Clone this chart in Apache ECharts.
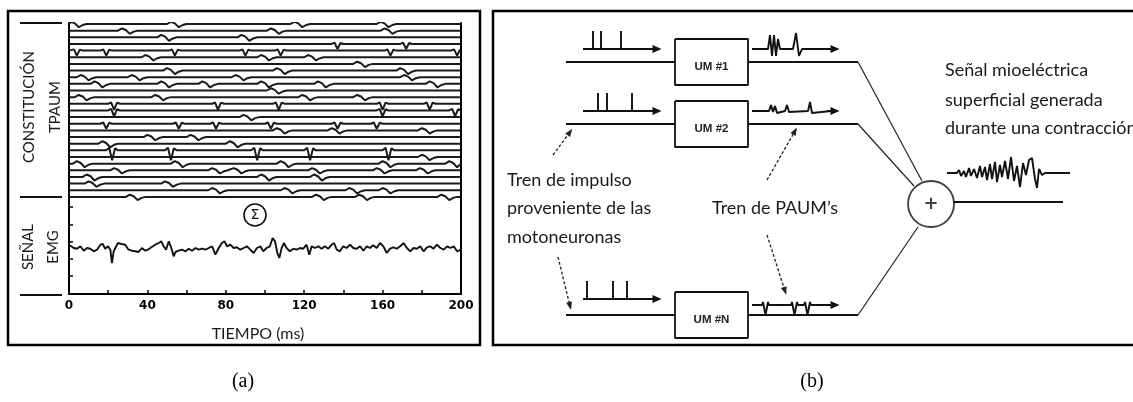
<!DOCTYPE html>
<html><head><meta charset="utf-8">
<script src="https://cdn.jsdelivr.net/npm/echarts@6/dist/echarts.min.js"></script>
<style>html,body{margin:0;padding:0;background:#fff}#c{width:1133px;height:402px}</style>
</head><body><div id="c"></div>
<script>
// ================= Panel (a) data =================
const xTickValues = [0, 40, 80, 120, 160, 200];
const emgTickValues = [18, 35.5, 52, 69, 87];
// firing times (ms) of each motor-unit action potential train (27 trains, top to bottom)
const traceFirings = [
  [4, 55, 118, 162],
  [30, 106, 164],
  [50, 91],
  [137, 172],
  [4, 19, 54, 90, 108, 164, 198],
  [42, 101, 125],
  [150],
  [53, 109, 172],
  [9, 35, 88, 174],
  [16, 50, 71, 101, 130, 187],
  [106],
  [8, 47, 122, 150],
  [23, 76, 107, 160, 184],
  [23, 160, 197],
  [92],
  [19, 56, 75, 103, 137, 157],
  [109, 137, 183],
  [43, 65],
  [20, 85],
  [22, 52, 96, 123, 163],
  [183],
  [7, 57, 111, 163, 197],
  [26, 76, 87, 127, 160, 182],
  [12, 101, 128],
  [13, 52],
  [76, 113, 146, 163],
  [34, 129, 151, 193]
];
const traceAmp = [4,4,4.5,5,5,4,4,4.5,4,4.5,4,4,6,6,4,5,4,4,4.5,10,4,4.5,4,4.5,4,4,4];
const traceShape = ['W','W','W','V','V','W','W','W','W','W','W','W','V','V','W','V','W','W','W','V','W','W','W','W','W','W','W'];
const muapV = [[-3,0],[-1.5,0.25],[0,-1],[1.5,0.2],[3,0]];
const muapW = [[-5,0],[-3,0.55],[-1,0.15],[1,-0.8],[3,-0.25],[5,0]];
// surface EMG signal (time ms, amplitude)
const emgT = [0,0.7,2.4,4.1,5.8,7.5,9.2,10.9,12.6,14.3,16,17.2,18.5,19.9,21.1,21.9,22.8,23.6,25,26.7,28.7,30.4,32.1,33.8,35.5,37.2,38.9,40.3,42,44,45.8,47.1,48.3,49.5,50.9,52.2,53.4,54.3,55.9,57.7,59.4,61.1,62.8,64.5,66.2,67.9,69.6,71.3,73,73.8,74.7,75.5,76.4,78,79.4,80.6,82.3,84,85.7,87.4,89.1,90.8,92.5,94.2,95.9,97.6,99.1,100.8,102.5,103.9,105.1,106.3,107.3,108.5,109.7,111,112.7,114.5,116.1,117.9,119.5,121.2,122.6,123.8,125.5,127.2,128.9,130.6,132.3,134,135.2,136.6,138.2,139.9,141.6,143.4,145,146.8,148.5,150.2,151.9,153.6,155.2,157,158.7,160.4,162.1,163.8,165.5,167.2,169,170.7,172.4,174.1,175.8,177.5,179.2,180.9,182.6,184.3,186,187.7,189.5,191.2,192.9,194.6,196.3,198,200];
const emgV = [49.3,51,46,45.3,47.7,43.3,46,45.3,42.7,44.3,49.3,50,45.3,47.7,44.3,31,42.7,46,51,50,49.3,44.3,43.3,42.7,42,46,43.3,44.3,46.7,49.3,51,52.7,47.7,44.3,52.7,46,37.7,42,43.3,44.3,42.7,45.3,43.3,46,44.3,45.3,44.3,46,47.7,49.3,39.3,37.7,46,51,52.7,47.7,49.3,46,46.7,44.3,46,47.7,44.3,41,46,47.7,42.7,46,47.7,56,52.7,41,36,46,51,46,42.7,45.3,44.3,46,45.3,49.3,39.3,47.7,46,47.7,45.3,47.7,45.3,49.3,51,44.3,42.7,47.7,46,49.3,46,45.3,47.7,43.3,47.7,46,48.7,46,51,47.7,41,45.3,46.7,45.3,47.7,51,46,42.7,46,45.3,47.7,42.7,46.7,47.7,45.3,49.3,46,44.3,47.7,46,47.7,42.7,44.3];

// ================= Panel (b) data =================
const umLabels = ['UM #1', 'UM #2', 'UM #N'];
const impulseTimes = [[10, 18, 38], [15, 24, 49], [4, 30, 44]];
const muapTrains = [
  [[0,0],[16,0],[18,-14],[20,7],[22,-14],[24,7],[26,-10],[28,0],[41,0],[44,-16],[47,7],[50,0]],
  [[0,0],[17,0],[19,-6],[21,1],[23,-5],[25,2],[27,0],[33,0],[35,-6],[37,1],[39,0],[56,0],[58,-9],[60,2],[62,0]],
  [[0,0],[10,0],[11,-3],[13.5,10],[16,-3],[17,0],[39,0],[40,-3],[42.5,10],[45,-3],[46,0],[52,0],[53,-3],[55.5,10],[58,-3],[59,0]]
];
const mixedSignal = [[0,0],[10,0],[12,-3],[14,3],[17,-2],[19,4],[22,-5],[24,3],[27,-4],[30,5],[33,-7],[35,4],[38,-6],[40,7],[43,-9],[45,6],[48,-11],[50,9],[53,-8],[55,4],[58,-12],[61,6],[64,-16],[67,8],[70,-7],[73,14],[76,-10],[79,2],[82,-13],[85,-15],[88,6],[90,15],[92,-4],[95,2],[98,0],[123,0]];

// ================= layout =================
const traceTop = 270, traceGap = 6.65;
const B = {
  rowY: [62, 124, 315], inX0: 566, boxX0: 675, boxX1: 748, outX1: 858, boxHalfH: 23,
  trainX0: 583, trainX1: 657, trainDy: [-13, -13, -16], spikeH: 18,
  muapX0: 752, muapX1: 835, muapDy: [-13, -13, -10],
  diagEnd: [[922, 181], [914, 186], [918, 227]],
  sumC: [931, 204], sumR: 23, sumOutX: [954, 1063],
  mixX0: 947, mixY: 173
};
const TXT = 'Lato';
const BODY_FONT = '18px ' + TXT;

function traceData(i) {
  const base = traceTop - i * traceGap;
  const tpl = traceShape[i] === 'V' ? muapV : muapW;
  const pts = [[0, base]];
  traceFirings[i].forEach(t => tpl.forEach(([dt, a]) => {
    const x = t + dt;
    if (x > 0 && x < 200) pts.push([x, base + a * traceAmp[i]]);
  }));
  pts.push([200, base]);
  pts.sort((p, q) => p[0] - q[0]);
  return pts;
}

const series = [];
const lineBase = (xi, yi, data, w, color) => ({
  type: 'line', xAxisIndex: xi, yAxisIndex: yi, data, symbol: 'none', silent: true,
  lineStyle: { width: w, color: color || '#111' }, z: 3
});
for (let i = 0; i < traceFirings.length; i++) series.push(lineBase(0, 0, traceData(i), 2, '#1a1a1a'));
series.push(lineBase(0, 0, emgT.map((t, k) => [t, emgV[k]]), 1.9, '#111'));

// panel b series (axis index 1 / 2)
const arrows = [];
B.rowY.forEach((y, r) => {
  series.push(lineBase(1, 2, [[B.inX0, y], [B.boxX0, y]], 2));
  series.push(lineBase(1, 2, [[B.boxX0, y - B.boxHalfH], [B.boxX1, y - B.boxHalfH], [B.boxX1, y + B.boxHalfH], [B.boxX0, y + B.boxHalfH], [B.boxX0, y - B.boxHalfH]], 1.8));
  series.push(lineBase(1, 2, [[B.boxX1, y], [B.outX1, y]], 2));
  series.push(lineBase(1, 2, [[B.outX1, y], B.diagEnd[r]], 1.2, '#222'));
  // impulse train
  const ty = y + B.trainDy[r];
  const tp = [[B.trainX0, ty]];
  impulseTimes[r].forEach(s => { const x = B.trainX0 + s; tp.push([x, ty], [x, ty - B.spikeH], [x, ty]); });
  tp.push([B.trainX1 - 4, ty]);
  series.push(lineBase(1, 2, tp, 1.9));
  arrows.push([{ coord: [B.trainX1 - 8, ty] }, { coord: [B.trainX1, ty] }]);
  // MUAP train
  const my = y + B.muapDy[r];
  const mp = muapTrains[r].map(([dx, dy]) => [B.muapX0 + dx, my + dy]);
  mp.push([B.muapX1 - 4, my]);
  series.push(lineBase(1, 2, mp, 1.9));
  arrows.push([{ coord: [B.muapX1 - 8, my] }, { coord: [B.muapX1, my] }]);
});
series.push(lineBase(1, 2, [[B.sumOutX[0], B.sumC[1] - 2], [B.sumOutX[1], B.sumC[1] - 2]], 2));
series.push(lineBase(1, 2, mixedSignal.map(([dx, dy]) => [B.mixX0 + dx, B.mixY + dy]), 1.9));
series.push({
  type: 'scatter', xAxisIndex: 1, yAxisIndex: 2, silent: true, data: [B.sumC], symbol: 'circle', symbolSize: B.sumR * 2,
  itemStyle: { color: '#fff', borderColor: '#111', borderWidth: 1.8 },
  label: { show: true, position: 'inside', formatter: '+', color: '#111', fontSize: 18, fontWeight: 'bold', fontFamily: 'DejaVu Sans' }, z: 4
});
// filled arrowheads
series.push({
  type: 'line', xAxisIndex: 1, yAxisIndex: 2, data: [], silent: true,
  markLine: { silent: true, symbol: ['none', 'triangle'], symbolSize: [8, 9], label: { show: false },
    lineStyle: { type: 'solid', color: '#111', width: 1.9 }, data: arrows, animation: false }
});
// thin pointer arrows
series.push({
  type: 'line', xAxisIndex: 1, yAxisIndex: 2, data: [], silent: true,
  markLine: { silent: true, symbol: ['none', 'triangle'], symbolSize: [6, 8], label: { show: false },
    lineStyle: { type: [3, 2], color: '#222', width: 1.3 }, animation: false,
    data: [
      [{ coord: [553, 155] }, { coord: [570, 132] }],
      [{ coord: [558, 257] }, { coord: [570, 306] }],
      [{ coord: [767, 180] }, { coord: [795, 131] }],
      [{ coord: [767, 235] }, { coord: [785, 291] }]
    ] }
});

const txt = (x, y, text, extra) => Object.assign({
  type: 'text', x, y, silent: true,
  style: Object.assign({ text, fill: '#1a1a1a', font: BODY_FONT, align: 'left', verticalAlign: 'middle' }, (extra && extra.style) || {})
}, extra && extra.rotation !== undefined ? { rotation: extra.rotation } : {});
const sideFont = '15px ' + TXT;

const graphic = [
  { type: 'rect', shape: { x: 8, y: 11, width: 472, height: 334 }, style: { fill: 'none', stroke: '#000', lineWidth: 2.5 }, silent: true },
  { type: 'rect', shape: { x: 493, y: 11, width: 660, height: 334 }, style: { fill: 'none', stroke: '#000', lineWidth: 2.5 }, silent: true },
  { type: 'line', shape: { x1: 20, y1: 23, x2: 62, y2: 23 }, style: { stroke: '#111', lineWidth: 2 } },
  { type: 'line', shape: { x1: 20, y1: 197, x2: 62, y2: 197 }, style: { stroke: '#111', lineWidth: 2 } },
  { type: 'line', shape: { x1: 20, y1: 295, x2: 62, y2: 295 }, style: { stroke: '#111', lineWidth: 2 } },
  txt(29, 107, 'CONSTITUCIÓN', { rotation: Math.PI / 2, style: { align: 'center', font: sideFont } }),
  txt(55, 107, 'TPAUM', { rotation: Math.PI / 2, style: { align: 'center', font: sideFont } }),
  txt(28, 247, 'SEÑAL', { rotation: Math.PI / 2, style: { align: 'center', font: sideFont } }),
  txt(53, 247, 'EMG', { rotation: Math.PI / 2, style: { align: 'center', font: sideFont } }),
  txt(258, 334, 'TIEMPO (ms)', { style: { align: 'center', font: '16px ' + TXT } }),
  { type: 'circle', shape: { cx: 255, cy: 215, r: 11 }, style: { fill: 'none', stroke: '#111', lineWidth: 1.6 } },
  txt(255, 215, 'Σ', { style: { align: 'center', font: '14px DejaVu Sans', fill: '#111' } }),
  txt(945, 70, 'Señal mioeléctrica'),
  txt(945, 100, 'superficial generada'),
  txt(945, 128, 'durante una contracción'),
  txt(507, 180, 'Tren de impulso'),
  txt(507, 208, 'proveniente de las'),
  txt(507, 237, 'motoneuronas'),
  txt(712, 208, 'Tren de PAUM’s'),
  txt(243, 382, '(a)', { style: { align: 'center', font: '20px Liberation Serif', fill: '#000' } }),
  txt(812, 382, '(b)', { style: { align: 'center', font: '20px Liberation Serif', fill: '#000' } })
].concat(umLabels.map((l, r) => txt((B.boxX0 + B.boxX1) / 2, B.rowY[r] + 5, l,
  { style: { align: 'center', font: 'bold 11.5px Liberation Sans', fill: '#222' } })));

const chart = echarts.init(document.getElementById('c'), null, { renderer: 'canvas' });
chart.setOption({
  animation: false,
  backgroundColor: '#fff',
  grid: [
    { left: 69, top: 23, width: 392, height: 271 },
    { left: 493, top: 11, width: 640, height: 334 }
  ],
  xAxis: [
    { gridIndex: 0, type: 'value', min: 0, max: 200, interval: 40,
      axisLine: { lineStyle: { color: '#000', width: 2 } },
      axisTick: { inside: true, length: 4, lineStyle: { color: '#000', width: 1.5 } },
      minorTick: { show: true, splitNumber: 2, length: 4, lineStyle: { color: '#000', width: 1.5 } },
      splitLine: { show: false },
      axisLabel: { color: '#000', fontSize: 12, fontWeight: 'bold', fontFamily: 'DejaVu Sans', margin: 6,
        customValues: xTickValues } },
    { gridIndex: 1, type: 'value', min: 493, max: 1133, show: false }
  ],
  yAxis: [
    { gridIndex: 0, type: 'value', min: 0, max: 271,
      axisLine: { show: true, lineStyle: { color: '#000', width: 2 } },
      axisTick: { show: true, inside: true, length: 4, customValues: emgTickValues, lineStyle: { color: '#000', width: 1.5 } },
      axisLabel: { show: false }, splitLine: { show: false } },
    { gridIndex: 0, type: 'value', min: 0, max: 271, position: 'right',
      axisLine: { show: true, lineStyle: { color: '#000', width: 2 } },
      axisTick: { show: false }, axisLabel: { show: false }, splitLine: { show: false } },
    { gridIndex: 1, type: 'value', min: 11, max: 345, inverse: true, show: false }
  ],
  series,
  graphic
});
</script></body></html>
